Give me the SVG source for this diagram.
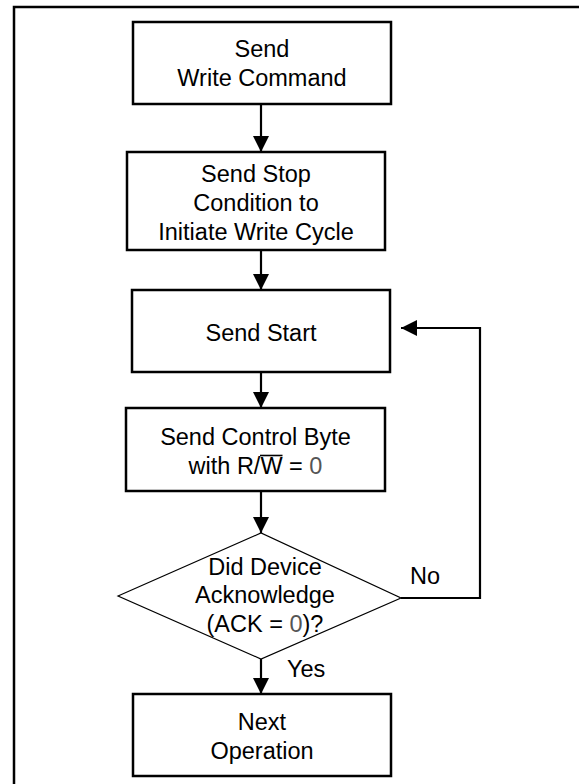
<svg xmlns="http://www.w3.org/2000/svg" width="579" height="784" viewBox="0 0 579 784">
<style>
.box{fill:#fff;stroke:#000;stroke-width:2.5}
.dia{fill:#fff;stroke:#000;stroke-width:1.2}
.t{font-family:"Liberation Sans",Arial,sans-serif;font-size:23.5px;fill:#000;text-anchor:middle}
.l{font-family:"Liberation Sans",Arial,sans-serif;font-size:23.5px;fill:#000}
.z{fill:#555}
.c{fill:none;stroke:#000;stroke-width:2.2}
</style>
<defs>
<marker id="ah" viewBox="0 0 16 16" refX="16" refY="8" markerWidth="16" markerHeight="16" markerUnits="userSpaceOnUse" orient="auto">
<path d="M0,0 L16,8 L0,16 Z" fill="#000"/>
</marker>
</defs>
<rect x="14" y="7" width="620" height="820" fill="none" stroke="#000" stroke-width="2.5"/>
<g id="connectors">
<line class="c" x1="261" y1="104" x2="261" y2="152" marker-end="url(#ah)"/>
<line class="c" x1="261" y1="250" x2="261" y2="290" marker-end="url(#ah)"/>
<line class="c" x1="261" y1="372" x2="261" y2="408" marker-end="url(#ah)"/>
<line class="c" x1="261" y1="491" x2="261" y2="533" marker-end="url(#ah)"/>
<line class="c" x1="261" y1="659" x2="261" y2="694" marker-end="url(#ah)"/>
<polyline class="c" points="401,598 480,598 480,328 401,328" marker-end="url(#ah)"/>
<text class="l" x="410" y="584">No</text>
<text class="l" x="287" y="677">Yes</text>
</g>
<g id="n1">
<rect class="box" x="133" y="22" width="258" height="82"/>
<text class="t" x="262" y="57">Send</text>
<text class="t" x="262" y="86">Write Command</text>
</g>
<g id="n2">
<rect class="box" x="127" y="152" width="258" height="98"/>
<text class="t" x="256" y="181.5">Send Stop</text>
<text class="t" x="256" y="211">Condition to</text>
<text class="t" x="256" y="240">Initiate Write Cycle</text>
</g>
<g id="n3">
<rect class="box" x="132" y="290" width="258" height="82"/>
<text class="t" x="261" y="341">Send Start</text>
</g>
<g id="n4">
<rect class="box" x="126" y="408" width="259" height="83"/>
<text class="t" x="255.5" y="444.5">Send Control Byte</text>
<text class="t" x="255.5" y="473.5">with R/W = <tspan class="z">0</tspan></text>
<line x1="260" y1="455.5" x2="282.5" y2="455.5" stroke="#000" stroke-width="1.6"/>
</g>
<g id="n5">
<polygon class="dia" points="118,596 261,533 401,598 261,659"/>
<text class="t" x="265" y="574.5">Did Device</text>
<text class="t" x="265" y="603">Acknowledge</text>
<text class="t" x="265" y="631.5">(ACK = <tspan class="z">0</tspan>)?</text>
</g>
<g id="n6">
<rect class="box" x="133" y="694" width="258" height="82"/>
<text class="t" x="262" y="729.5">Next</text>
<text class="t" x="262" y="758.5">Operation</text>
</g>
</svg>
